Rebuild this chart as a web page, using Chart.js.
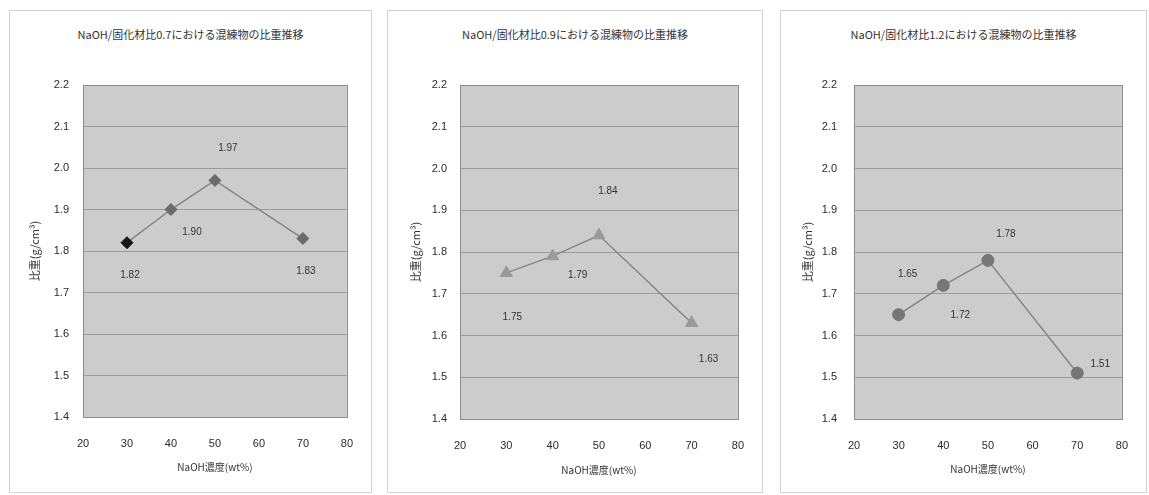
<!DOCTYPE html>
<html lang="ja">
<head>
<meta charset="utf-8">
<title>混練物の比重推移</title>
<script src="https://cdn.jsdelivr.net/npm/chart.js@4.4.1/dist/chart.umd.min.js"></script>
<style>
  html, body { margin: 0; padding: 0; background: #ffffff; }
  body { width: 1149px; height: 495px; position: relative; overflow: hidden; }
  .panel { position: absolute; border: 1px solid #d2d2d2; box-sizing: border-box; background: #fff; }
  .panel canvas { position: absolute; left: 0; top: 0; }
  .panel .ttl { position: absolute; left: 0; right: 0; text-align: center;
    font-family: "Noto Sans CJK JP", "Liberation Sans", sans-serif; font-size: 11px; color: #333; }
</style>
</head>
<body>
<div class="panel" id="p1" style="left:9px;top:10px;width:363px;height:483px;">
  <div class="ttl" style="top:15px;">NaOH/固化材比0.7における混練物の比重推移</div>
  <canvas id="c1" width="363" height="483"></canvas>
</div>
<div class="panel" id="p2" style="left:387px;top:10px;width:376px;height:483px;">
  <div class="ttl" style="top:15px;">NaOH/固化材比0.9における混練物の比重推移</div>
  <canvas id="c2" width="376" height="483"></canvas>
</div>
<div class="panel" id="p3" style="left:780px;top:10px;width:367px;height:483px;">
  <div class="ttl" style="top:15px;">NaOH/固化材比1.2における混練物の比重推移</div>
  <canvas id="c3" width="367" height="483"></canvas>
</div>
<script>
// NaOH concentration (wt%) and measured specific gravity for each NaOH/binder ratio
const concentrations = [30, 40, 50, 70];
const density07 = [1.82, 1.90, 1.97, 1.83];
const density09 = [1.75, 1.79, 1.84, 1.63];
const density12 = [1.65, 1.72, 1.78, 1.51];

// axis ranges
const xRange = [20, 80];
const xStep = 10;
const yRange = [1.4, 2.2];
const yStep = 0.1;

const xTitle = 'NaOH濃度(wt%)';
const yTitle = '比重(g/cm³)';

const tickFont = { family: '"Liberation Sans", Arial, sans-serif', size: 11 };
const xTitleFont = { family: '"Noto Sans CJK JP", sans-serif', size: 10 };
const yTitleFont = { family: '"Noto Sans CJK JP", sans-serif', size: 11 };

// shaded plot area with a thin frame
const plotBackground = {
  id: 'plotBackground',
  beforeDraw(chart) {
    const { ctx, chartArea: a } = chart;
    ctx.save();
    ctx.fillStyle = '#cccccc';
    ctx.fillRect(a.left, a.top, a.right - a.left, a.bottom - a.top);
    ctx.restore();
  },
  afterDraw(chart) {
    const { ctx, chartArea: a } = chart;
    ctx.save();
    ctx.strokeStyle = '#8c8c8c';
    ctx.lineWidth = 1;
    ctx.strokeRect(Math.round(a.left) + 0.5, Math.round(a.top) + 0.5,
      Math.round(a.right - a.left), Math.round(a.bottom - a.top));
    ctx.restore();
  }
};

// value labels placed beside each point
const valueLabels = {
  id: 'valueLabels',
  afterDatasetsDraw(chart, args, opts) {
    const { ctx } = chart;
    const meta = chart.getDatasetMeta(0);
    const values = chart.data.datasets[0].data;
    ctx.save();
    ctx.font = '10px "Liberation Sans", Arial, sans-serif';
    ctx.fillStyle = '#333';
    ctx.textAlign = 'center';
    ctx.textBaseline = 'middle';
    meta.data.forEach((pt, i) => {
      const [dx, dy] = opts.offsets[i];
      ctx.fillText(values[i].y.toFixed(2), pt.x + dx, pt.y + dy);
    });
    ctx.restore();
  }
};

function buildChart(id, values, cfg) {
  const points = concentrations.map((x, i) => ({ x, y: values[i] }));
  return new Chart(document.getElementById(id), {
    type: 'line',
    data: {
      datasets: [{
        data: points,
        borderColor: '#858585',
        borderWidth: 1.5,
        pointStyle: cfg.pointStyle,
        pointRadius: cfg.pointRadius,
        pointHoverRadius: cfg.pointRadius,
        pointBackgroundColor: cfg.pointColors,
        pointBorderColor: cfg.pointColors,
        pointBorderWidth: 1,
        tension: 0
      }]
    },
    options: {
      responsive: false,
      animation: false,
      devicePixelRatio: 1,
      layout: { padding: cfg.padding },
      plugins: {
        legend: { display: false },
        tooltip: { enabled: false },
        title: { display: false },
        valueLabels: { offsets: cfg.labelOffsets }
      },
      scales: {
        x: {
          type: 'linear',
          min: xRange[0], max: xRange[1],
          ticks: { stepSize: xStep, font: tickFont, color: '#2a2a2a', padding: cfg.xTickPad,
            callback: v => String(v) },
          grid: { display: false, drawTicks: false },
          border: { display: false },
          title: { display: true, text: xTitle, font: xTitleFont, color: '#333', padding: 0 },
          afterFit(s) { s.height = cfg.xAxisHeight; }
        },
        y: {
          type: 'linear',
          min: yRange[0], max: yRange[1],
          ticks: { stepSize: yStep, font: tickFont, color: '#2a2a2a', padding: cfg.yTickPad,
            callback: v => v.toFixed(1) },
          grid: { color: '#9c9c9c', lineWidth: 1, drawTicks: false },
          border: { display: false },
          title: { display: true, text: yTitle, font: yTitleFont, color: '#333', padding: 0 },
          afterFit(s) { s.width = cfg.yAxisWidth; }
        }
      }
    },
    plugins: [plotBackground, valueLabels]
  });
}

buildChart('c1', density07, {
  pointStyle: 'rectRot', pointRadius: 6,
  pointColors: ['#151515', '#6a6a6a', '#6a6a6a', '#6a6a6a'],
  padding: { left: 18, right: 22, top: 74, bottom: 21 },
  yAxisWidth: 55, xAxisHeight: 56, xTickPad: 20, yTickPad: 14,
  labelOffsets: [[3, 33], [21, 23], [13, -32], [3, 33]]
});

buildChart('c2', density09, {
  pointStyle: 'triangle', pointRadius: 7,
  pointColors: '#9a9a9a',
  padding: { left: 21, right: 23, top: 74, bottom: 18 },
  yAxisWidth: 51, xAxisHeight: 57, xTickPad: 20, yTickPad: 13,
  labelOffsets: [[6, 44], [25, 19], [9, -44], [17, 36]]
});

buildChart('c3', density12, {
  pointStyle: 'circle', pointRadius: 6,
  pointColors: '#767676',
  padding: { left: 20, right: 14, top: 74, bottom: 19 },
  yAxisWidth: 53, xAxisHeight: 56, xTickPad: 20, yTickPad: 17,
  labelOffsets: [[9, -40], [17, 30], [18, -26], [23, -9]]
});
</script>
</body>
</html>
